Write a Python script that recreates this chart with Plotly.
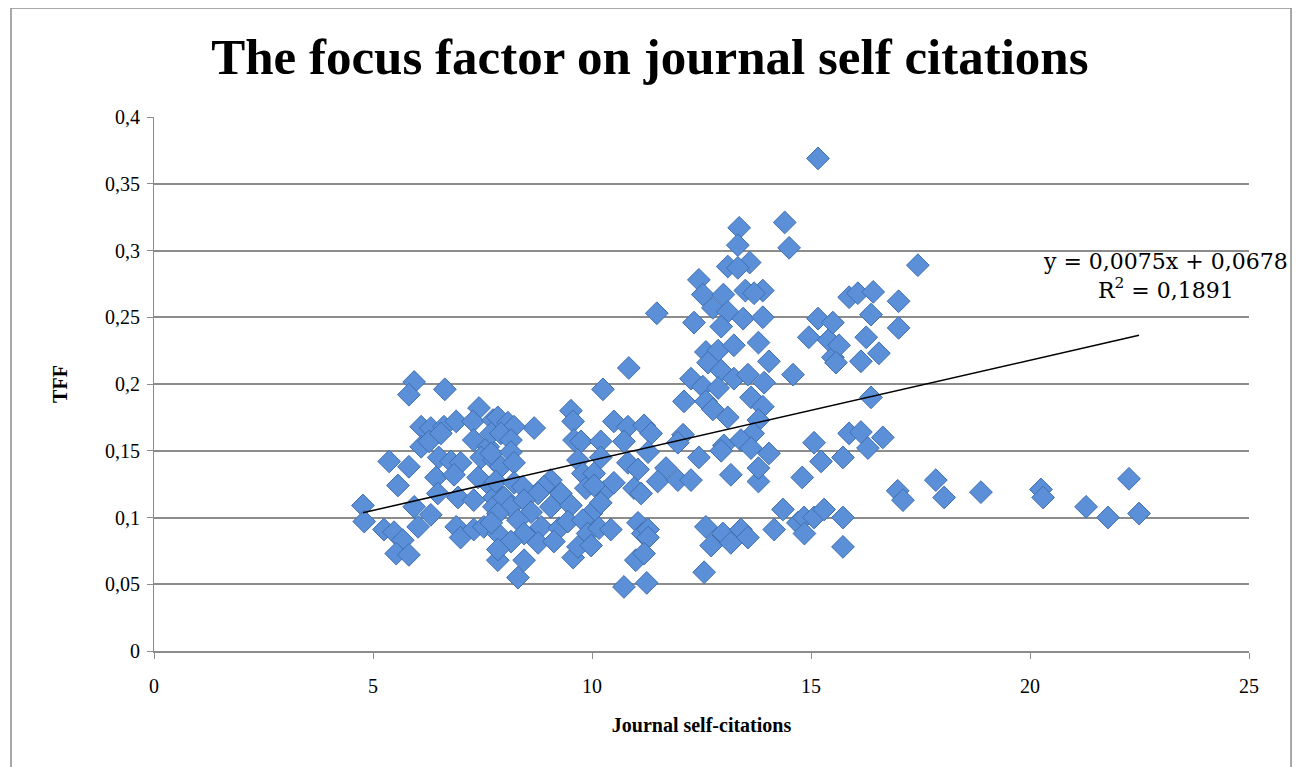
import plotly.graph_objects as go

# Journal self-citations (x) and TFF (y)
journal_self_citations = [
    5.94, 5.82, 6.64, 7.42, 6.10, 6.32, 6.62, 6.90, 7.28, 7.74, 6.10, 6.28, 6.55, 7.30, 7.63,
    5.37, 5.82, 6.50, 6.78, 7.00, 7.47, 7.76, 5.57, 6.44, 6.85, 7.40, 7.70, 6.48, 6.94, 7.30,
    7.76, 4.77, 4.80, 5.94, 6.32, 5.25, 5.48, 6.03, 5.68, 5.53, 5.82, 6.90, 7.00, 7.30, 7.53,
    7.85, 7.85, 7.76,
    10.84, 10.25, 9.52, 9.57, 10.50, 10.82, 11.19, 8.68, 7.85, 8.08, 8.22, 7.70, 7.92, 8.15,
    9.59, 9.75, 10.20, 10.73, 7.70, 8.15, 9.68, 10.20, 7.92, 8.22, 9.79, 10.05, 10.82, 11.05,
    7.80, 8.22, 8.42, 9.06, 8.90, 8.77, 9.29, 9.86, 10.27, 10.05, 10.50, 10.96, 7.99, 8.15,
    8.45, 8.61, 9.06, 9.52, 9.98, 10.20, 7.85, 7.70, 8.31, 8.45, 8.84, 9.25, 9.45, 9.79, 9.90,
    10.16, 10.43, 11.05, 11.16, 8.15, 7.85, 8.45, 8.77, 9.13, 9.57, 9.68, 9.98, 11.00, 8.31,
    10.73, 11.25,
    15.16, 13.36, 14.40, 14.50, 13.33, 13.60, 13.10, 13.33, 12.44, 12.53, 13.00, 13.50, 13.90,
    13.70, 11.48, 12.33, 12.76, 13.10, 13.45, 13.90, 12.95, 15.16, 14.95, 15.40, 15.50, 12.60,
    12.88, 13.24, 13.80, 14.04, 12.65, 12.95, 12.26, 13.24, 13.56, 13.93, 14.59, 12.53, 12.88,
    12.10, 12.60, 12.76, 13.63, 13.90, 13.10, 13.80, 11.35, 12.08, 13.68, 11.28, 11.96, 13.01,
    13.40, 13.63, 14.04, 12.44, 12.95, 15.07, 15.23, 11.69, 11.50, 11.96, 12.26, 13.17, 13.80,
    13.80, 14.80, 11.12, 11.28, 11.28, 11.19, 12.60, 12.72, 12.99, 13.17, 13.40, 13.56, 12.56,
    14.16, 14.36, 14.70, 14.84, 15.07, 15.30, 14.85,
    17.44, 15.87, 16.07, 16.42, 17.00, 17.00, 16.37, 15.50, 15.64, 16.26, 16.55, 16.14, 15.57,
    16.37, 15.87, 16.14, 16.64, 16.30, 15.73, 16.98, 17.10, 17.85, 18.04, 18.88, 15.73, 15.73,
    20.25, 20.30, 21.28, 21.78, 22.26, 22.49,
]
tff = [
    0.2015, 0.192, 0.196, 0.182, 0.168, 0.167, 0.168, 0.172, 0.172, 0.173, 0.153, 0.157, 0.163,
    0.158, 0.153, 0.142, 0.138, 0.145, 0.142, 0.141, 0.145, 0.143, 0.124, 0.130, 0.132, 0.130,
    0.123, 0.118, 0.115, 0.113, 0.115, 0.109, 0.097, 0.108, 0.102, 0.091, 0.089, 0.093, 0.083,
    0.073, 0.072, 0.093, 0.085, 0.091, 0.093, 0.088, 0.068, 0.108,
    0.212, 0.196, 0.180, 0.172, 0.172, 0.168, 0.169, 0.167, 0.175, 0.171, 0.168, 0.163, 0.163,
    0.158, 0.158, 0.157, 0.157, 0.157, 0.148, 0.149, 0.143, 0.145, 0.138, 0.141, 0.133, 0.133,
    0.141, 0.136, 0.127, 0.126, 0.123, 0.128, 0.123, 0.118, 0.118, 0.122, 0.119, 0.124, 0.126,
    0.122, 0.115, 0.108, 0.113, 0.104, 0.108, 0.109, 0.103, 0.111, 0.103, 0.096, 0.098, 0.088,
    0.093, 0.092, 0.097, 0.098, 0.088, 0.092, 0.091, 0.096, 0.088, 0.082, 0.076, 0.068, 0.081,
    0.082, 0.070, 0.078, 0.079, 0.068, 0.055, 0.048, 0.051,
    0.369, 0.317, 0.321, 0.302, 0.304, 0.291, 0.288, 0.287, 0.278, 0.267, 0.267, 0.270, 0.270,
    0.268, 0.253, 0.246, 0.257, 0.254, 0.249, 0.250, 0.243, 0.249, 0.235, 0.233, 0.220, 0.224,
    0.225, 0.229, 0.231, 0.217, 0.216, 0.210, 0.204, 0.204, 0.207, 0.201, 0.207, 0.198, 0.197,
    0.187, 0.187, 0.181, 0.190, 0.183, 0.175, 0.173, 0.163, 0.162, 0.163, 0.149, 0.156, 0.154,
    0.158, 0.152, 0.148, 0.145, 0.150, 0.156, 0.142, 0.137, 0.127, 0.128, 0.128, 0.132, 0.127,
    0.137, 0.130, 0.118, 0.091, 0.085, 0.073, 0.093, 0.079, 0.088, 0.081, 0.091, 0.085, 0.059,
    0.091, 0.106, 0.096, 0.100, 0.100, 0.106, 0.088,
    0.289, 0.265, 0.268, 0.269, 0.262, 0.242, 0.252, 0.246, 0.229, 0.235, 0.223, 0.217, 0.216,
    0.190, 0.163, 0.164, 0.160, 0.152, 0.145, 0.120, 0.113, 0.128, 0.115, 0.119, 0.100, 0.078,
    0.121, 0.115, 0.108, 0.100, 0.129, 0.103,
]

trend_slope = 0.0075
trend_intercept = 0.0678
r_squared = "0,1891"

y_tick_vals = [0, 0.05, 0.1, 0.15, 0.2, 0.25, 0.3, 0.35, 0.4]
y_tick_text = ["0", "0,05", "0,1", "0,15", "0,2", "0,25", "0,3", "0,35", "0,4"]
x_tick_vals = [0, 5, 10, 15, 20, 25]

x_lo, x_hi = min(journal_self_citations), max(journal_self_citations)
trend_x = [x_lo, x_hi]
trend_y = [trend_slope * v + trend_intercept for v in trend_x]

fig = go.Figure()
fig.add_trace(go.Scatter(
    x=journal_self_citations, y=tff, mode="markers",
    marker=dict(symbol="diamond", size=17.5, color="#5B90D8",
                line=dict(color="#3F6EAF", width=1)),
    showlegend=False, hoverinfo="x+y",
))
fig.add_trace(go.Scatter(
    x=trend_x, y=trend_y, mode="lines",
    line=dict(color="#000000", width=1.5), showlegend=False, hoverinfo="skip",
))

serif = "Liberation Serif, DejaVu Serif, serif"
wide_serif = "DejaVu Serif, Liberation Serif, serif"

fig.update_layout(
    width=1302, height=767,
    paper_bgcolor="white", plot_bgcolor="white",
    margin=dict(l=146, r=61, t=109, b=124, autoexpand=False),
    title=dict(text="<b>The focus factor on journal self citations</b>",
               x=0.493, xanchor="center", y=0.937, yanchor="middle",
               font=dict(family=serif, size=51, color="#000")),
    font=dict(family=serif, color="#000"),
    xaxis=dict(range=[0, 25], tickvals=x_tick_vals, showgrid=False,
               zeroline=False, showline=True, linecolor="#8c8c8c", linewidth=2,
               ticks="outside", ticklen=6, tickcolor="#8c8c8c", tickwidth=1,
               ticklabelstandoff=10,
               tickfont=dict(family=serif, size=20, color="#000"),
               title=dict(text="<b>Journal self-citations</b>", standoff=22,
                          font=dict(family=serif, size=20, color="#000"))),
    yaxis=dict(range=[0, 0.4], tickvals=y_tick_vals, ticktext=y_tick_text,
               showgrid=True, gridcolor="#8c8c8c", gridwidth=1.5,
               zeroline=False, showline=True, linecolor="#8c8c8c", linewidth=1,
               ticks="outside", ticklen=6, tickcolor="#8c8c8c", tickwidth=1,
               ticklabelstandoff=3,
               tickfont=dict(family=serif, size=20, color="#000"),
               title=dict(text="<b>TFF</b>", standoff=32,
                          font=dict(family=serif, size=20, color="#000"))),
    annotations=[dict(
        xref="paper", yref="paper", x=0.924, y=0.702, xanchor="center", yanchor="middle",
        align="center", showarrow=False,
        text=f"y = 0,0075x + 0,0678<br>R<sup>2</sup> = {r_squared}",
        font=dict(family=wide_serif, size=22, color="#000"),
    )],
    shapes=[dict(type="rect", xref="paper", yref="paper",
                 x0=-0.1306, x1=1.0384, y0=-0.23, y1=1.204,
                 line=dict(color="#8c8c8c", width=1.5), fillcolor="rgba(0,0,0,0)",
                 layer="below")],
)

fig.write_html("out.html")
